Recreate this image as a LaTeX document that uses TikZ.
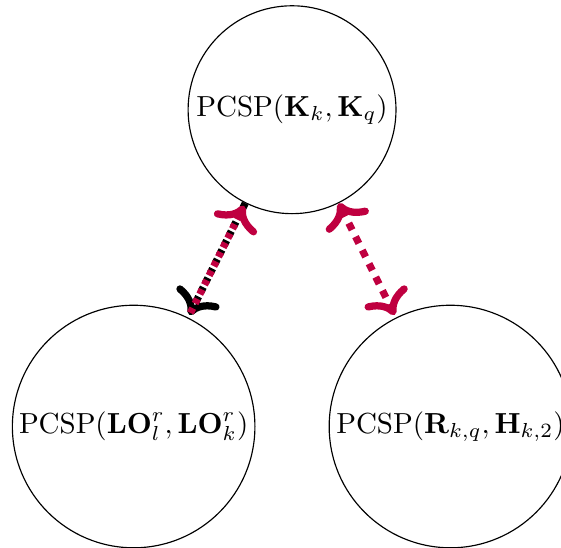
\documentclass[tikz,border=0pt]{standalone}
\usepackage{latexsym,amsfonts,amssymb,amsmath}
\usepackage {tikz}
\usetikzlibrary {arrows.meta}

\begin{document}
\begin{tikzpicture}[shorten >=1pt,line cap=round]
  \tikzstyle{vertex}=[circle, draw, black, thin, inner sep=0pt]
  \tikzstyle{red}=[purple]
  \tikzstyle{link}=[line width=2.5pt, -{To[round,scale=1.1]}]
  \useasboundingbox (0,0) rectangle (6.80,-6.64);
  \node[vertex, minimum size=2.52cm] (P_1) at (3.54,-1.33) {$\mathrm{PCSP}(\mathbf{K}_k,\mathbf{K}_q)$};
  \node[vertex, minimum size=2.94cm] (P_2) at (1.62,-5.17) {$\mathrm{PCSP}(\mathbf{LO}_l^r,\mathbf{LO}_k^r)$};
  \node[vertex, minimum size=2.94cm] (P_3) at (5.46,-5.17) {$\mathrm{PCSP}(\mathbf{R}_{k,q},\mathbf{H}_{k,2})$};

  \draw[link, line cap=butt, dash pattern=on 1.8pt off 1.8pt] (P_1) -- (P_2);
  \draw[link, red, line cap=butt, dash pattern=on 1.8pt off 1.8pt, dash phase=1.8pt] (P_2) -- (P_1);
  \draw[link, red, {To[round,scale=1.1]}-{To[round,scale=1.1]}, line cap=butt, dash pattern=on 2.6pt off 2.6pt] (P_1) -- (P_3);
\end{tikzpicture}
\end{document}
